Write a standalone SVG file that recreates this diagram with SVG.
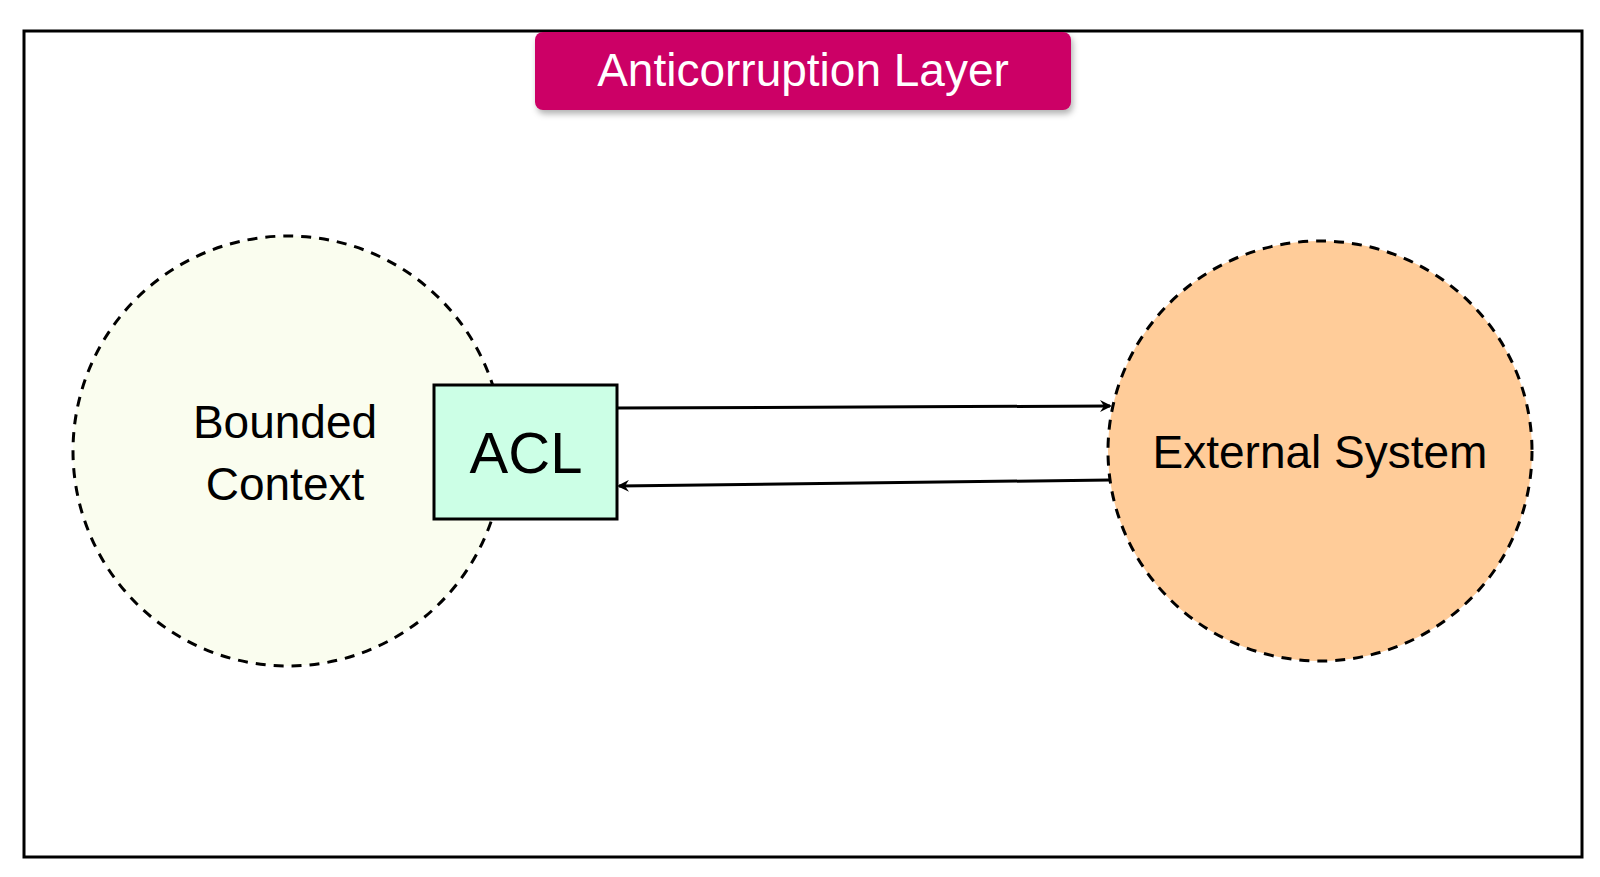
<svg xmlns="http://www.w3.org/2000/svg" width="1600" height="877" viewBox="0 0 1600 877">
<defs>
<marker id="ah" markerWidth="12" markerHeight="12" refX="10" refY="6" orient="auto" markerUnits="userSpaceOnUse"><path d="M0,0 L12,6 L0,12 L4,6 Z" fill="#000"/></marker>
<filter id="sh" x="-10%" y="-20%" width="120%" height="150%"><feDropShadow dx="2" dy="4" stdDeviation="3" flood-opacity="0.3"/></filter>
</defs>
<style>text{font-family:"Liberation Sans",Arial,sans-serif;text-anchor:middle}</style>
<rect width="1600" height="877" fill="#fff"/>
<g id="frame"><rect x="24" y="31" width="1558" height="826" fill="none" stroke="#000" stroke-width="3"/></g>
<g id="title"><rect x="535" y="32" width="536" height="78" rx="8" fill="#cc0066" filter="url(#sh)"/><text x="803" y="86" font-size="46" fill="#fff">Anticorruption Layer</text></g>
<g id="bounded"><circle cx="288" cy="451" r="215" fill="#fafdef" stroke="#000" stroke-width="3" stroke-dasharray="10,8"/><text x="285" y="438" font-size="46">Bounded</text><text x="285" y="500" font-size="46">Context</text></g>
<g id="acl"><rect x="434" y="385" width="183" height="134" fill="#ccffe6" stroke="#000" stroke-width="3"/><text x="526" y="473" font-size="58">ACL</text></g>
<g id="external"><ellipse cx="1320" cy="451" rx="212" ry="210" fill="#ffcc99" stroke="#000" stroke-width="3" stroke-dasharray="10,8"/><text x="1320" y="468" font-size="46">External System</text></g>
<g id="connectors" stroke="#000" stroke-width="3" fill="none">
<path d="M617,408 L1110,406" marker-end="url(#ah)"/>
<path d="M1110,480 L619,486" marker-end="url(#ah)"/>
</g>
</svg>
